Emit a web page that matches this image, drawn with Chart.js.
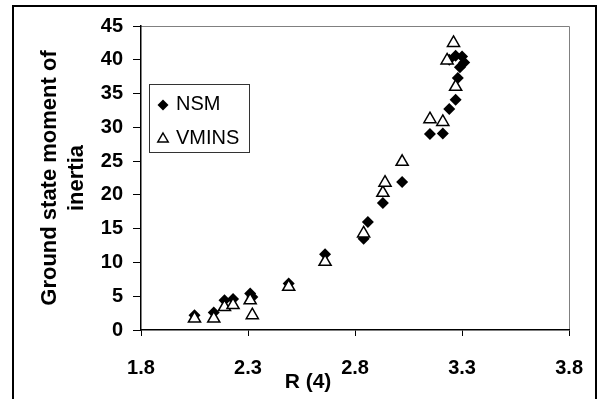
<!DOCTYPE html>
<html>
<head>
<meta charset="utf-8">
<script src="https://cdn.jsdelivr.net/npm/chart.js@4.4.0/dist/chart.umd.min.js"></script>
<style>
html, body { margin: 0; padding: 0; background: #fff; }
</style>
</head>
<body>
<canvas id="scatterChart" width="603" height="399"></canvas>
<script>
// data
var nsmR = [2.05, 2.14, 2.19, 2.23, 2.31, 2.32, 2.49, 2.66, 2.84, 2.86, 2.93, 3.02, 3.15, 3.21, 3.24, 3.27, 3.28, 3.29, 3.31, 3.30, 3.27, 3.24]
var nsmI = [2.2, 2.6, 4.4, 4.6, 5.4, 4.9, 6.9, 11.2, 13.5, 16.0, 18.8, 21.9, 29.0, 29.1, 32.7, 34.1, 37.3, 38.9, 39.6, 40.5, 40.6, 40.0]
var vminsR = [2.05, 2.14, 2.19, 2.23, 2.31, 2.32, 2.49, 2.66, 2.84, 2.93, 2.94, 3.02, 3.15, 3.21, 3.27, 3.23, 3.26]
var vminsI = [1.7, 1.7, 3.4, 3.7, 4.4, 2.2, 6.4, 10.1, 14.3, 20.3, 21.8, 24.9, 31.2, 30.8, 36.0, 39.9, 42.5]
var xTicks = [1.8, 2.3, 2.8, 3.3, 3.8]
var seriesNames = ["NSM", "VMINS"]
var yTitle = ["Ground state moment of", "inertia"]
var xTitle = "R (4)"

function toPoints(xs, ys) {
    var pts = []
    for (var i = 0; i < xs.length; i++) pts.push({x: xs[i], y: ys[i]})
    return pts
}

function diamond(ctx, x, y, r) {
    ctx.beginPath()
    ctx.moveTo(x - r, y); ctx.lineTo(x, y - r); ctx.lineTo(x + r, y); ctx.lineTo(x, y + r)
    ctx.closePath()
    ctx.fillStyle = "#000"
    ctx.fill()
}

function triangle(ctx, x, y, r) {
    ctx.beginPath()
    ctx.moveTo(x, y - r)
    ctx.lineTo(x + r * 0.866, y + r / 2)
    ctx.lineTo(x - r * 0.866, y + r / 2)
    ctx.closePath()
    ctx.fillStyle = "#fff"
    ctx.fill()
    ctx.lineWidth = 1.5
    ctx.strokeStyle = "#000"
    ctx.stroke()
}

var framePlugin = {
    id: "frame",
    beforeDraw: function(chart) {
        var ctx = chart.ctx
        var a = chart.chartArea
        ctx.save()
        ctx.fillStyle = "#fff"
        ctx.fillRect(0, 0, chart.width, chart.height)
        ctx.lineWidth = 2
        ctx.strokeStyle = "#000"
        ctx.strokeRect(13, 6, 583, 400)
        // plot area border (top and right), grey like the original
        ctx.lineWidth = 1
        ctx.strokeStyle = "#808080"
        ctx.beginPath()
        ctx.moveTo(a.left, Math.round(a.top) + 0.5)
        ctx.lineTo(Math.round(a.right) + 0.5, Math.round(a.top) + 0.5)
        ctx.lineTo(Math.round(a.right) + 0.5, a.bottom)
        ctx.stroke()
        ctx.restore()
    },
    afterDraw: function(chart) {
        var ctx = chart.ctx
        ctx.save()
        // x axis title sits left of centre in the original
        ctx.font = "bold 21px 'Liberation Sans', Arial, sans-serif"
        ctx.fillStyle = "#000"
        ctx.textAlign = "center"
        ctx.textBaseline = "middle"
        ctx.fillText(xTitle, 308, 382)
        // legend box
        ctx.lineWidth = 1
        ctx.strokeStyle = "#333"
        ctx.strokeRect(149.5, 84.5, 100, 68)
        diamond(ctx, 163, 105, 5.5)
        triangle(ctx, 163, 139, 6)
        ctx.font = "20px 'Liberation Sans', Arial, sans-serif"
        ctx.fillStyle = "#000"
        ctx.textAlign = "left"
        ctx.fillText(seriesNames[0], 176, 104)
        ctx.fillText(seriesNames[1], 176, 138)
        ctx.restore()
    }
}

var tickFont = {family: "'Liberation Sans', Arial, sans-serif", size: 20, weight: "bold"}

var ctx = document.getElementById("scatterChart").getContext("2d")
var chart = new Chart(ctx, {
    type: "scatter",
    data: {
        datasets: [{
            label: seriesNames[0],
            data: toPoints(nsmR, nsmI),
            pointStyle: "rectRot",
            pointRadius: 6,
            backgroundColor: "#000",
            borderColor: "#000",
            borderWidth: 0,
            order: 1
        }, {
            label: seriesNames[1],
            data: toPoints(vminsR, vminsI),
            pointStyle: "triangle",
            pointRadius: 7,
            backgroundColor: "#fff",
            borderColor: "#000",
            borderWidth: 1.5,
            order: 0
        }]
    },
    options: {
        responsive: false,
        animation: false,
        layout: {
            padding: {left: 0, top: 26, right: 23, bottom: 0}
        },
        plugins: {
            legend: {display: false},
            tooltip: {enabled: false}
        },
        scales: {
            x: {
                type: "linear",
                min: 1.8,
                max: 3.8,
                afterBuildTicks: function(scale) {
                    scale.ticks = xTicks.map(function(v) { return {value: v} })
                },
                afterFit: function(scale) { scale.height = 69 },
                grid: {drawOnChartArea: false, tickLength: 6, color: "#000", tickWidth: 1},
                border: {color: "#000", width: 1.5},
                ticks: {
                    font: tickFont,
                    color: "#000",
                    padding: 20,
                    maxRotation: 0,
                    callback: function(v) { return v.toFixed(1) }
                }
            },
            y: {
                min: 0,
                max: 45,
                afterFit: function(scale) { scale.width = 141 },
                grid: {drawOnChartArea: false, tickLength: 8, color: "#000", tickWidth: 1},
                border: {color: "#000", width: 1.5},
                ticks: {
                    stepSize: 5,
                    font: tickFont,
                    color: "#000",
                    padding: 10
                },
                title: {
                    display: true,
                    text: yTitle,
                    color: "#000",
                    font: {family: "'Liberation Sans', Arial, sans-serif", size: 22, weight: "bold"},
                    padding: {top: 37, bottom: 0}
                }
            }
        }
    },
    plugins: [framePlugin]
})
</script>
</body>
</html>
